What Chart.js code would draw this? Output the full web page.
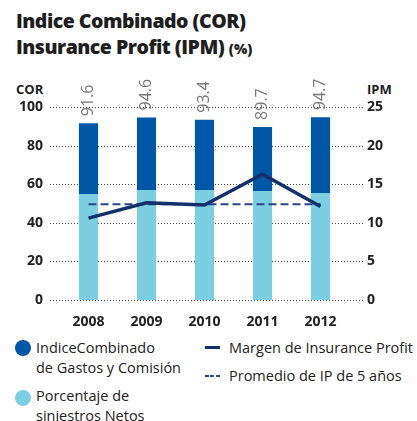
<!DOCTYPE html>
<html>
<head>
<meta charset="utf-8">
<script src="https://cdn.jsdelivr.net/npm/chart.js@4/dist/chart.umd.min.js"></script>
<style>
  html, body { margin: 0; padding: 0; background: #fff; }
  body { width: 417px; height: 421px; position: relative; overflow: hidden; font-family: "Open Sans", sans-serif; color: #222; }
  .title { position: absolute; left: 16px; top: 8px; font-weight: 800; font-size: 19.5px; line-height: 26px; letter-spacing: -0.5px; color: #1e1e1e; }
  .title small { font-size: 14px; letter-spacing: 0; }
  .axt { position: absolute; top: 80px; font-weight: 700; font-size: 13px; color: #222; }
  #wrap { position: absolute; left: 0; top: 0; width: 417px; height: 330px; }
  .lg { position: absolute; font-size: 14.5px; line-height: 20px; color: #222; }
  .dot { position: absolute; width: 16px; height: 16px; border-radius: 50%; }
  .ln { position: absolute; width: 15px; }
</style>
</head>
<body>
<div class="title">Indice Combinado (COR)<br>Insurance Profit (IPM) <small>(%)</small></div>
<div class="axt" style="left:16px">COR</div>
<div class="axt" style="left:367px">IPM</div>
<div id="wrap"><canvas id="c" width="417" height="330"></canvas></div>

<div class="dot" style="left:15px;top:340px;background:#0057a5"></div>
<div class="lg" style="left:36px;top:338px">IndiceCombinado<br>de Gastos y Comisión</div>
<div class="dot" style="left:15px;top:390px;background:#7ccfe2"></div>
<div class="lg" style="left:36px;top:386px">Porcentaje de<br>siniestros Netos</div>
<div class="ln" style="left:205px;top:346px;height:3px;background:#13306b"></div>
<div class="lg" style="left:229px;top:338px">Margen de Insurance Profit</div>
<div class="ln" style="left:205px;top:375px;height:2px;background:repeating-linear-gradient(90deg,#26458a 0 4px,transparent 4px 5.5px)"></div>
<div class="lg" style="left:229px;top:366px">Promedio de IP de 5 años</div>

<script>
// datos
const years = ['2008', '2009', '2010', '2011', '2012'];
const siniestros = [54.9, 57.0, 57.0, 56.5, 55.4];
const gastosComision = [36.7, 37.6, 36.4, 33.2, 39.3];
const corTotal = [91.6, 94.6, 93.4, 89.7, 94.7];
const margenIP = [10.6, 12.6, 12.3, 16.3, 12.1];
const promedioIP = [12.4, 12.4, 12.4, 12.4, 12.4];
const corTicks = [0, 20, 40, 60, 80, 100];
const ipmTicks = [0, 5, 10, 15, 20, 25];

// lineas punteadas de fondo, un poco mas anchas que el area del grafico
const dottedGrid = {
    id: 'dottedGrid',
    beforeDatasetsDraw(chart) {
        const ctx = chart.ctx;
        const y = chart.scales.y;
        ctx.save();
        ctx.strokeStyle = '#444';
        ctx.lineWidth = 1;
        ctx.setLineDash([1, 2]);
        corTicks.forEach(t => {
            const py = Math.round(y.getPixelForValue(t)) + 0.5;
            ctx.beginPath();
            ctx.moveTo(50, py);
            ctx.lineTo(363, py);
            ctx.stroke();
        });
        ctx.restore();
    }
};

// etiquetas verticales encima de cada barra
const totalLabels = {
    id: 'totalLabels',
    afterDatasetsDraw(chart) {
        const ctx = chart.ctx;
        const meta = chart.getDatasetMeta(1);
        ctx.save();
        ctx.fillStyle = '#777';
        ctx.font = '16px "Open Sans", sans-serif';
        ctx.textAlign = 'left';
        ctx.textBaseline = 'middle';
        meta.data.forEach((bar, i) => {
            ctx.save();
            ctx.translate(bar.x, bar.y - 7);
            ctx.rotate(-Math.PI / 2);
            ctx.fillText(corTotal[i].toFixed(1), 0, 0);
            ctx.restore();
        });
        ctx.restore();
    }
};

const tickFont = { family: '"Open Sans", sans-serif', size: 14, weight: '700' };

new Chart(document.getElementById('c'), {
    data: {
        labels: years,
        datasets: [
            {
                type: 'bar', label: 'Porcentaje de siniestros Netos', data: siniestros,
                backgroundColor: '#7ccfe2', yAxisID: 'y', order: 1,
                barPercentage: 0.66, categoryPercentage: 0.5
            },
            {
                type: 'bar', label: 'IndiceCombinado de Gastos y Comisión', data: gastosComision,
                backgroundColor: '#0057a5', yAxisID: 'y', order: 2,
                barPercentage: 0.66, categoryPercentage: 0.5
            },
            {
                type: 'line', label: 'Margen de Insurance Profit', data: margenIP,
                borderColor: '#13306b', borderWidth: 3.5, pointRadius: 0,
                yAxisID: 'y2', order: 0, tension: 0
            },
            {
                type: 'line', label: 'Promedio de IP de 5 años', data: promedioIP,
                borderColor: '#26458a', borderWidth: 2, borderDash: [8, 4], pointRadius: 0,
                yAxisID: 'y2', order: 0
            }
        ]
    },
    options: {
        responsive: false,
        animation: false,
        layout: { padding: { top: 107, left: 0, right: 0, bottom: 0 } },
        plugins: { legend: { display: false }, tooltip: { enabled: false } },
        scales: {
            x: {
                stacked: true,
                grid: { display: false },
                border: { display: false },
                ticks: { color: '#222', font: tickFont, padding: 6 },
                afterFit(s) { s.height = 30; }
            },
            y: {
                stacked: true, position: 'left', min: 0, max: 100,
                grid: { display: false, drawTicks: false },
                border: { display: false },
                ticks: { stepSize: 20, color: '#222', font: tickFont, padding: 16.5 },
                afterFit(s) { s.width = 59.5; }
            },
            y2: {
                position: 'right', min: 0, max: 25,
                grid: { display: false, drawTicks: false },
                border: { display: false },
                ticks: { stepSize: 5, color: '#222', font: tickFont, padding: 17.5 },
                afterFit(s) { s.width = 67.5; }
            }
        }
    },
    plugins: [dottedGrid, totalLabels]
});
</script>
</body>
</html>
